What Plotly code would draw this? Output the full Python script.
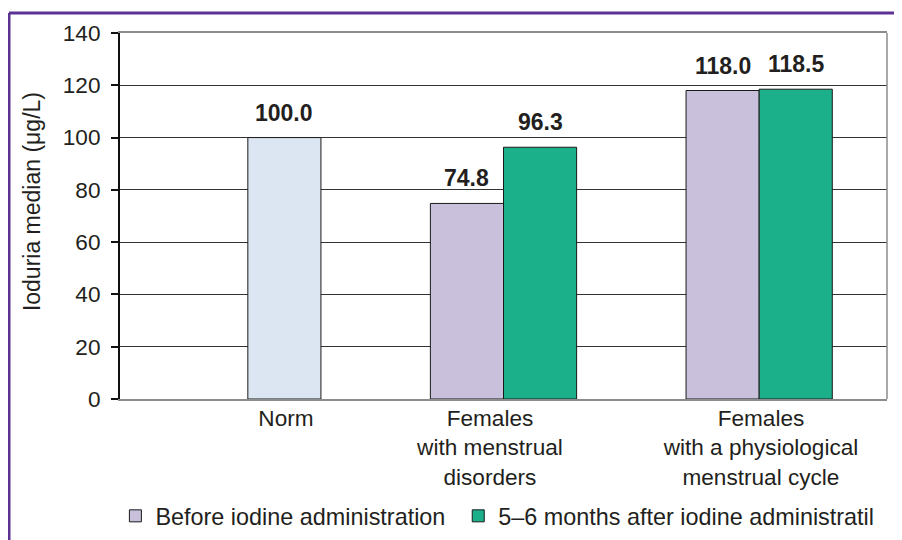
import plotly.graph_objects as go

categories = ["Norm", "Females<br>with menstrual<br>disorders", "Females<br>with a physiological<br>menstrual cycle"]
norm_values = [100.0, None, None]
before_values = [None, 74.8, 118.0]
after_values = [None, 96.3, 118.5]
series_names = ["Before iodine administration", "5–6 months after iodine administratil"]
y_ticks = [0, 20, 40, 60, 80, 100, 120, 140]

FONT = "Liberation Sans, Arial, sans-serif"
TXT = "#231f20"
FS = 22.6
LFS = 23.4
BW = 0.286
xs = list(range(len(categories)))

fig = go.Figure()
fig.add_trace(go.Bar(x=xs, y=norm_values, width=BW, offset=0,
                     marker=dict(color="#dce6f2", line=dict(color="#1a1a1a", width=1)),
                     showlegend=False, hoverinfo="skip"))
fig.add_trace(go.Bar(x=xs, y=before_values, width=BW, offset=-BW, name=series_names[0],
                     marker=dict(color="#c9c0db", line=dict(color="#1a1a1a", width=1)),
                     legend="legend"))
fig.add_trace(go.Bar(x=xs, y=after_values, width=BW, offset=0, name=series_names[1],
                     marker=dict(color="#1bb08a", line=dict(color="#1a1a1a", width=1)),
                     legend="legend2"))

annots = []
for vals, off in [(norm_values, BW / 2), (before_values, -BW / 2), (after_values, BW / 2)]:
    for xi, v in zip(xs, vals):
        if v is None:
            continue
        annots.append(dict(x=xi + off, y=v, xref="x", yref="y", text=f"{v:.1f}",
                           showarrow=False, yanchor="bottom", yshift=10,
                           font=dict(family=FONT, size=23, color=TXT, weight="bold")))

annots.append(dict(x=-0.1147, y=0.538, xref="paper", yref="paper", text="Ioduria median (μg/L)",
                   textangle=-90, showarrow=False, xanchor="center", yanchor="middle",
                   font=dict(family=FONT, size=23, color=TXT)))

purple = "#5c3393"
shapes = [
    dict(type="line", xref="paper", yref="paper", x0=1, x1=1, y0=0, y1=1,
         line=dict(color="#8c8c8c", width=1.5)),
    dict(type="line", xref="paper", yref="paper", x0=-0.1447, x1=1.05, y0=1.0546, y1=1.0546,
         line=dict(color=purple, width=3)),
    dict(type="line", xref="paper", yref="paper", x0=-0.1447, x1=-0.1447, y0=1.0546, y1=-0.45,
         line=dict(color=purple, width=3)),
]

fig.update_layout(
    width=902, height=540,
    margin=dict(l=112, r=23, t=25, b=149, autoexpand=False),
    paper_bgcolor="white", plot_bgcolor="white",
    barmode="overlay",
    font=dict(family=FONT, size=FS, color=TXT),
    annotations=annots,
    shapes=shapes,
    xaxis=dict(range=[-0.5, 2.5], tickmode="array",
               tickvals=[0.149, 0.947, 2.007], ticktext=categories,
               ticks="", showline=True, mirror=True, linecolor="#8c8c8c", linewidth=1.5,
               showgrid=False, zeroline=False, tickfont=dict(size=FS, color=TXT),
               automargin=False, ticklabelstandoff=-2),
    yaxis=dict(range=[0, 140], tickmode="array", tickvals=y_ticks,
               ticks="outside", ticklen=7, tickcolor="#111", tickwidth=1.5,
               showline=True, linecolor="#111", linewidth=2,
               showgrid=True, gridcolor="#333", gridwidth=1, zeroline=False,
               tickfont=dict(size=FS, color=TXT), ticklabelstandoff=6, automargin=False),
    legend=dict(orientation="h", x=-0.006, y=-0.32, xanchor="left", yanchor="middle",
                font=dict(size=LFS, color=TXT), bgcolor="rgba(0,0,0,0)"),
    legend2=dict(orientation="h", x=0.441, y=-0.32, xanchor="left", yanchor="middle",
                 font=dict(size=LFS, color=TXT), bgcolor="rgba(0,0,0,0)"),
)

fig.write_html("out.html")
